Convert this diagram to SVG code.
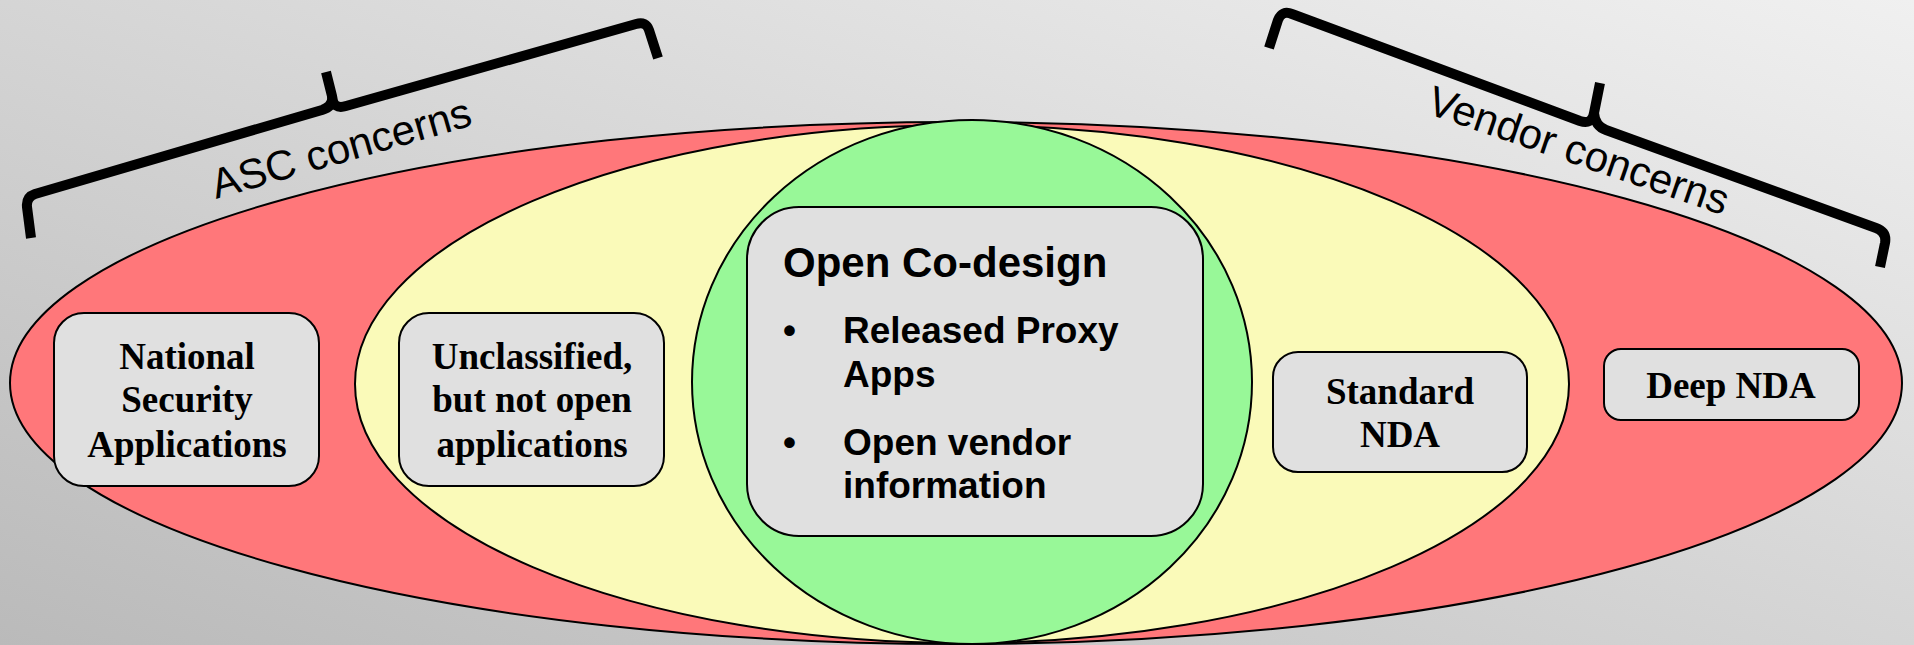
<svg xmlns="http://www.w3.org/2000/svg" width="1914" height="645" viewBox="0 0 1914 645">
  <defs>
    <linearGradient id="bg" x1="1" y1="0" x2="0" y2="1">
      <stop offset="0" stop-color="#f0f0f0"/>
      <stop offset="1" stop-color="#bababa"/>
    </linearGradient>
    <style>
      .zone { stroke: #000; stroke-width: 2; }
      .box { fill: #e0e0e0; stroke: #000; stroke-width: 2; }
      .serif { font-family: "Liberation Serif", "Times New Roman", serif; font-weight: bold; font-size: 37px; fill: #000; text-anchor: middle; }
      .sans { font-family: "Liberation Sans", Arial, sans-serif; font-weight: bold; fill: #000; }
      .brace { fill: none; stroke: #000; stroke-width: 10; stroke-linecap: butt; stroke-linejoin: round; }
      .label { font-family: "Liberation Sans", Arial, sans-serif; font-size: 42px; fill: #000; text-anchor: middle; }
    </style>
  </defs>

  <!-- background -->
  <rect x="0" y="0" width="1914" height="645" fill="url(#bg)"/>

  <!-- nested zones -->
  <g id="zone-outer">
    <ellipse class="zone" cx="956" cy="383" rx="946" ry="261" fill="#ff777a"/>
  </g>
  <g id="zone-middle">
    <ellipse class="zone" cx="962" cy="384" rx="607" ry="259" fill="#fafab9"/>
  </g>
  <g id="zone-inner">
    <ellipse class="zone" cx="972" cy="382" rx="280" ry="262" fill="#98f898"/>
  </g>

  <!-- boxes -->
  <g id="national-security">
    <rect class="box" x="54" y="313" width="265" height="173" rx="30"/>
    <text class="serif" x="187" y="369">National</text>
    <text class="serif" x="187" y="412">Security</text>
    <text class="serif" x="187" y="457">Applications</text>
  </g>

  <g id="unclassified">
    <rect class="box" x="399" y="313" width="265" height="173" rx="30"/>
    <text class="serif" x="532" y="369">Unclassified,</text>
    <text class="serif" x="532" y="412">but not open</text>
    <text class="serif" x="532" y="457">applications</text>
  </g>

  <g id="open-codesign">
    <rect class="box" x="747" y="207" width="456" height="329" rx="52"/>
    <text class="sans" x="783" y="277" font-size="42">Open Co-design</text>
    <text class="sans" x="783" y="343" font-size="37">•</text>
    <text class="sans" x="843" y="343" font-size="37">Released Proxy</text>
    <text class="sans" x="843" y="387" font-size="37">Apps</text>
    <text class="sans" x="783" y="455" font-size="37">•</text>
    <text class="sans" x="843" y="455" font-size="37">Open vendor</text>
    <text class="sans" x="843" y="498" font-size="37">information</text>
  </g>

  <g id="standard-nda">
    <rect class="box" x="1273" y="352" width="254" height="120" rx="25"/>
    <text class="serif" x="1400" y="404">Standard</text>
    <text class="serif" x="1400" y="447">NDA</text>
  </g>

  <g id="deep-nda">
    <rect class="box" x="1604" y="349" width="255" height="71" rx="17"/>
    <text class="serif" x="1731" y="398">Deep NDA</text>
  </g>

  <!-- braces and their captions -->
  <g id="connectors">
    <g id="asc-brace">
      <path class="brace" d="M31,238 L27,207 Q26,197 35,194 L322,110 Q334,106 332,96 L326,72"/>
      <path class="brace" d="M332,96 Q333,110 346,106 L636,24 Q646,21 649,30 L658,58"/>
      <text class="label" transform="translate(345,162) rotate(-16)">ASC concerns</text>
    </g>
    <g id="vendor-brace">
      <path class="brace" d="M1269,48 L1278,20 Q1282,10 1292,14 L1580,121 Q1592,125 1594,113 L1600,83"/>
      <path class="brace" d="M1594,113 Q1595,126 1606,130 L1876,228 Q1887,232 1885,243 L1880,267"/>
      <text class="label" transform="translate(1574,164) rotate(19)">Vendor concerns</text>
    </g>
  </g>
</svg>
